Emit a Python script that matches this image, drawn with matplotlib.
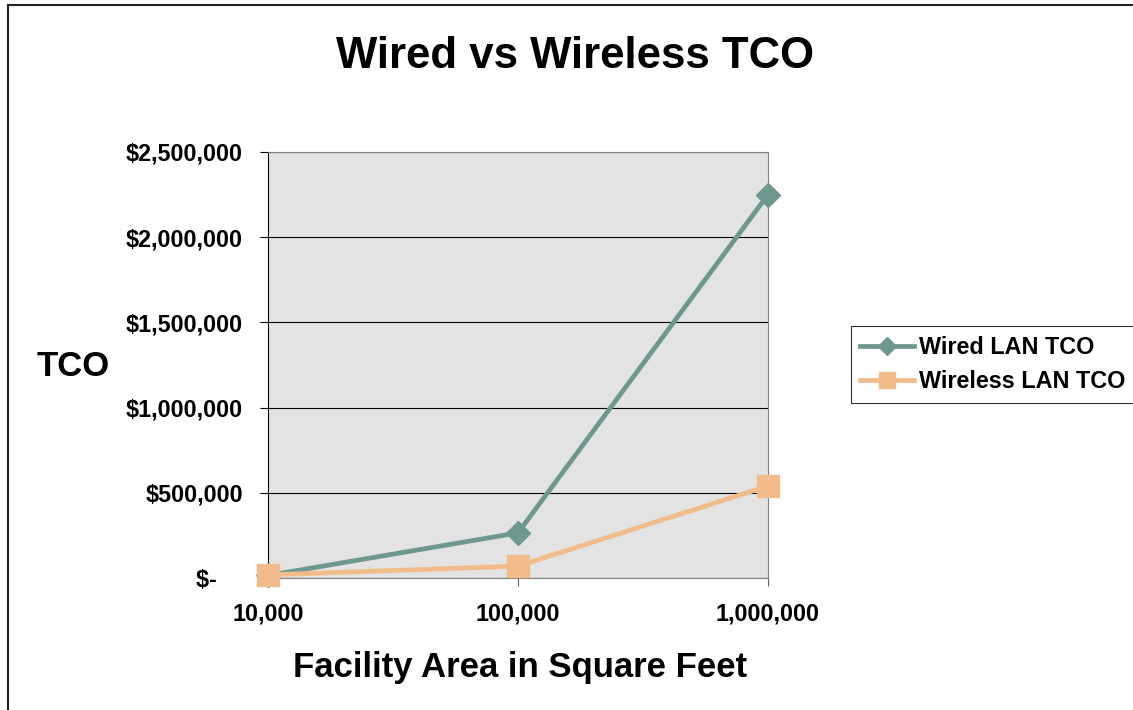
import matplotlib.pyplot as plt
from matplotlib.lines import Line2D
from matplotlib.ticker import FuncFormatter

areas = ["10,000", "100,000", "1,000,000"]
wired_tco = [15000, 265000, 2250000]
wireless_tco = [18000, 70000, 540000]

plt.rcParams["font.family"] = ["Liberation Sans", "DejaVu Sans"]
plt.rcParams["font.weight"] = "bold"

fig = plt.figure(figsize=(11.33, 7.10), dpi=100)
ax = fig.add_axes([268 / 1133, 1 - 578 / 710, 500 / 1133, 426 / 710])
ax.set_facecolor("#E3E3E3")

x = list(range(len(areas)))
ax.plot(x, wired_tco, color="#6E978F", lw=3.4, marker="D", ms=12.5,
        label="Wired LAN TCO", clip_on=False, zorder=3)
ax.plot(x, wireless_tco, color="#F2BC8A", lw=3.4, marker="s", ms=16,
        label="Wireless LAN TCO", clip_on=False, zorder=4)

ax.set_xlim(0, 2)
ax.set_ylim(0, 2500000)
ax.set_xticks(x)
ax.set_xticklabels(areas)
ax.set_yticks(range(0, 2500001, 500000))
# accounting-style zero: "$-" followed by padding
ax.yaxis.set_major_formatter(
    FuncFormatter(lambda v, _: "$-    " if v == 0 else f"${v:,.0f}"))
ax.grid(axis="y", color="black", lw=0.8)
ax.set_axisbelow(True)

ax.tick_params(axis="y", direction="out", length=6, width=0.8,
               labelsize=16.8, pad=12)
ax.tick_params(axis="x", direction="out", length=6, width=0.8,
               colors="#606060", labelcolor="black", labelsize=16.8, pad=12)
for side in ["top", "right", "bottom"]:
    ax.spines[side].set_color("#808080")
ax.spines["left"].set_color("black")

fig.text(575 / 1133, 1 - 56 / 710, "Wired vs Wireless TCO",
         ha="center", va="center", fontsize=31.5, fontweight="bold")
fig.text(73 / 1133, 1 - 367 / 710, "TCO",
         ha="center", va="center", fontsize=25, fontweight="bold")
fig.text(520 / 1133, 1 - 667 / 710, "Facility Area in Square Feet",
         ha="center", va="center", fontsize=25, fontweight="bold")

legend = fig.legend(loc="center left",
                    bbox_to_anchor=(851 / 1133, 1 - 364.5 / 710),
                    fontsize=16.8, frameon=True, fancybox=False,
                    edgecolor="black", handlelength=2.3, handletextpad=0.2,
                    borderpad=0.4, labelspacing=0.5, borderaxespad=0,
                    markerscale=0.75)
legend.get_frame().set_linewidth(0.8)

fig.add_artist(Line2D([8 / 1133, 8 / 1133], [0, 1 - 5 / 710],
                      color="#222222", lw=1.5, transform=fig.transFigure))
fig.add_artist(Line2D([8 / 1133, 1], [1 - 5 / 710, 1 - 5 / 710],
                      color="#222222", lw=1.5, transform=fig.transFigure))

fig.savefig("out.png", dpi=100)
